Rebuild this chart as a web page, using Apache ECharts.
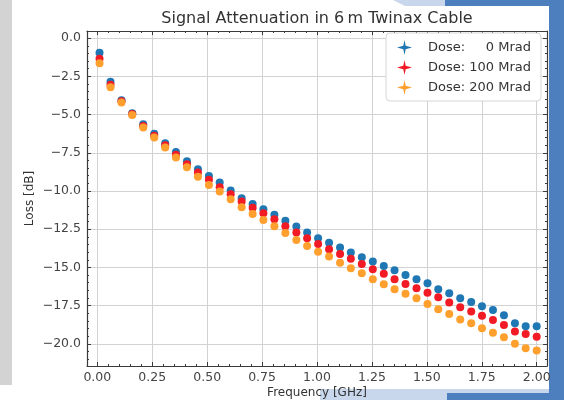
<!DOCTYPE html>
<html>
<head>
<meta charset="utf-8">
<script src="https://cdn.jsdelivr.net/npm/echarts@6/dist/echarts.min.js"></script>
<style>
  html, body { margin: 0; padding: 0; background: #fff; }
  #chart { width: 564px; height: 400px; }
</style>
</head>
<body>
<div id="chart"></div>
<script>
// frequency points [GHz]
const FREQ_GHZ = [0.010, 0.060, 0.110, 0.159, 0.209, 0.259, 0.309, 0.358, 0.408, 0.458,
  0.508, 0.557, 0.607, 0.657, 0.707, 0.756, 0.806, 0.856, 0.906, 0.955,
  1.005, 1.055, 1.105, 1.154, 1.204, 1.254, 1.304, 1.353, 1.403, 1.453,
  1.503, 1.552, 1.602, 1.652, 1.702, 1.751, 1.801, 1.851, 1.901, 1.950, 2.000];

// loss [dB] per dose
const LOSS_0 = [-0.95, -2.85, -4.06, -4.92, -5.63, -6.25, -6.87, -7.45, -8.05, -8.57,
  -9.01, -9.45, -9.97, -10.47, -10.85, -11.20, -11.56, -11.95, -12.33, -12.72,
  -13.09, -13.38, -13.70, -14.03, -14.33, -14.62, -14.90, -15.18, -15.49, -15.77,
  -16.03, -16.43, -16.69, -17.02, -17.27, -17.54, -17.78, -18.13, -18.65, -18.85, -18.85];
const LOSS_100 = [-1.35, -3.05, -4.13, -4.96, -5.74, -6.38, -7.00, -7.62, -8.25, -8.79,
  -9.27, -9.75, -10.21, -10.69, -11.10, -11.45, -11.85, -12.30, -12.72, -13.09,
  -13.46, -13.81, -14.12, -14.44, -14.77, -15.12, -15.42, -15.77, -16.08, -16.36,
  -16.65, -16.95, -17.30, -17.60, -17.89, -18.17, -18.44, -18.76, -19.20, -19.35, -19.53];
const LOSS_200 = [-1.64, -3.21, -4.21, -5.02, -5.85, -6.50, -7.15, -7.80, -8.45, -9.06,
  -9.60, -10.04, -10.54, -11.06, -11.50, -11.90, -12.30, -12.75, -13.20, -13.59,
  -13.97, -14.29, -14.69, -15.05, -15.38, -15.77, -16.10, -16.43, -16.73, -17.02,
  -17.39, -17.74, -18.04, -18.40, -18.65, -18.98, -19.27, -19.57, -20.00, -20.29, -20.44];

const SERIES_NAMES = ['Dose:     0 Mrad', 'Dose: 100 Mrad', 'Dose: 200 Mrad'];
const SERIES_COLORS = ['#1f77b4', '#f21b25', '#ffa02e'];

// ticks
const X_TICKS = [0, 0.25, 0.5, 0.75, 1.0, 1.25, 1.5, 1.75, 2.0];
const X_MINOR = [0.05, 0.1, 0.15, 0.2, 0.3, 0.35, 0.4, 0.45, 0.55, 0.6, 0.65, 0.7,
  0.8, 0.85, 0.9, 0.95, 1.05, 1.1, 1.15, 1.2, 1.3, 1.35, 1.4, 1.45,
  1.55, 1.6, 1.65, 1.7, 1.8, 1.85, 1.9, 1.95, 2.05];
const Y_TICKS = [0, -2.5, -5, -7.5, -10, -12.5, -15, -17.5, -20];
const Y_MINOR = [-0.5, -1, -1.5, -2, -3, -3.5, -4, -4.5, -5.5, -6, -6.5, -7,
  -8, -8.5, -9, -9.5, -10.5, -11, -11.5, -12, -13, -13.5, -14, -14.5,
  -15.5, -16, -16.5, -17, -18, -18.5, -19, -19.5, -20.5, -21];

const X_MIN = -0.047, X_MAX = 2.047;
const Y_MIN = -21.45, Y_MAX = 0.47;

var chart = echarts.init(document.getElementById('chart'));

var font = 'DejaVu Sans';
var axisColor = '#3a3a3a';

function minus(s) { return s.replace('-', '\u2212'); }

// one axis per role: main, minor ticks, mirrored frame side
function xAxisDef(pos, minor, labels) {
  return {
    type: 'value', position: pos, min: X_MIN, max: X_MAX,
    axisLine: { show: !minor, onZero: false, lineStyle: { color: axisColor, width: 1.2 } },
    axisTick: { show: true, inside: true, length: minor ? 2 : 4,
      customValues: minor ? X_MINOR : X_TICKS, lineStyle: { color: axisColor } },
    axisLabel: { show: labels, customValues: X_TICKS, margin: 5,
      fontFamily: font, fontSize: 12.5, color: '#444',
      formatter: function (v) { return v.toFixed(2); } },
    splitLine: { show: labels, lineStyle: { color: '#d2d2d2', width: 1 } }
  };
}
function yAxisDef(pos, minor, labels) {
  return {
    type: 'value', position: pos, min: Y_MIN, max: Y_MAX,
    axisLine: { show: !minor, onZero: false, lineStyle: { color: axisColor, width: 1.2 } },
    axisTick: { show: true, inside: true, length: minor ? 2 : 4,
      customValues: minor ? Y_MINOR : Y_TICKS, lineStyle: { color: axisColor } },
    axisLabel: { show: labels, customValues: Y_TICKS, margin: 6,
      fontFamily: font, fontSize: 12.5, color: '#444',
      formatter: function (v) { return minus(v.toFixed(1)); } },
    splitLine: { show: labels, lineStyle: { color: '#d2d2d2', width: 1 } },
    name: labels ? 'Loss [dB]' : '',
    nameLocation: 'middle', nameGap: 51, nameRotate: 90, nameMoveOverlap: false,
    nameTextStyle: { fontFamily: font, fontSize: 12, color: '#333' }
  };
}

// errorbar-style legend marker
var crossIcon = 'path://M10,0L11.6,7.6L20,10L11.6,12.4L10,20L8.4,12.4L0,10L8.4,7.6Z';

var option = {
  backgroundColor: '#fff',
  animation: false,
  title: {
    text: 'Signal Attenuation in 6\u2009m Twinax Cable',
    left: 312, top: 6, textAlign: 'center', z: 10,
    textStyle: { fontFamily: font, fontSize: 16, fontWeight: 'normal', color: '#333' }
  },
  grid: { left: 87, top: 31, right: 17, bottom: 34, outerBoundsMode: 'none' },
  legend: {
    orient: 'vertical', left: 386, top: 33,
    padding: [7, 10, 6, 11], itemGap: 5, itemWidth: 15, itemHeight: 15,
    backgroundColor: '#fff', borderColor: '#d6d6d6', borderWidth: 1, borderRadius: 4,
    textStyle: { fontFamily: font, fontSize: 13, color: '#333', padding: [0, 0, 0, 11] },
    data: SERIES_NAMES.map(function (n) { return { name: n, icon: crossIcon }; })
  },
  xAxis: [
    xAxisDef('bottom', false, true),
    xAxisDef('bottom', true, false),
    xAxisDef('top', false, false),
    xAxisDef('top', true, false)
  ],
  yAxis: [
    yAxisDef('left', false, true),
    yAxisDef('left', true, false),
    yAxisDef('right', false, false),
    yAxisDef('right', true, false)
  ],
  graphic: [
    { type: 'rect', shape: { x: 0, y: 0, width: 12, height: 385 }, style: { fill: '#d3d3d3' }, silent: true },
    { type: 'polygon', shape: { points: [[393, 0], [445, 0], [445, 6], [405, 6]] }, style: { fill: '#c8d7ec' }, silent: true },
    { type: 'rect', shape: { x: 445, y: 0, width: 119, height: 6 }, style: { fill: '#4d7fbf' }, silent: true },
    { type: 'rect', shape: { x: 549, y: 6, width: 15, height: 394 }, style: { fill: '#4d7fbf' }, silent: true },
    { type: 'rect', shape: { x: 320, y: 389, width: 229, height: 11 }, style: { fill: '#c8d7ec' }, silent: true },
    { type: 'rect', shape: { x: 447, y: 393, width: 102, height: 7 }, style: { fill: '#4d7fbf' }, silent: true },
    // x-axis title, sits partly below the frame edge as in the photo
    { type: 'text', x: 317, y: 387, z: 10, silent: true,
      style: { text: 'Frequency [GHz]', fontFamily: font, fontSize: 12, fill: '#333',
        align: 'center', verticalAlign: 'top' } }
  ],
  series: [LOSS_0, LOSS_100, LOSS_200].map(function (arr, i) {
    return {
      name: SERIES_NAMES[i],
      type: 'scatter',
      symbol: 'circle',
      symbolSize: 8,
      itemStyle: { color: SERIES_COLORS[i], opacity: 1 },
      z: 3 + i,
      data: FREQ_GHZ.map(function (f, j) { return [f, arr[j]]; })
    };
  })
};

chart.setOption(option);
</script>
</body>
</html>
